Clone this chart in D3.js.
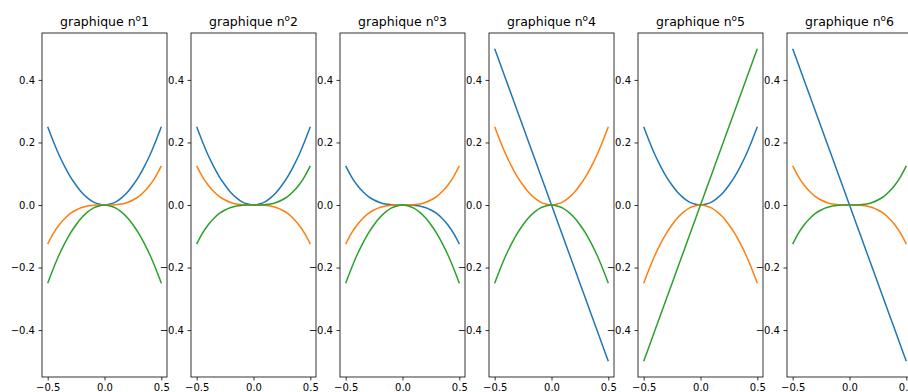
<!DOCTYPE html>
<html>
<head>
<meta charset="utf-8">
<script src="https://cdn.jsdelivr.net/npm/d3@7"></script>
<style>
body { margin: 0; background: #fff; }
text { font-family: "DejaVu Sans", sans-serif; }
</style>
</head>
<body>
<script>
let width = 908;
let height = 392;

// abscisses communes
let xs = [-0.5, -0.45, -0.4, -0.35, -0.3, -0.25, -0.2, -0.15, -0.1, -0.05, 0,
  0.05, 0.1, 0.15, 0.2, 0.25, 0.3, 0.35, 0.4, 0.45, 0.5];

// courbes
let carre = [0.25, 0.203, 0.16, 0.123, 0.09, 0.063, 0.04, 0.023, 0.01, 0.003, 0,
  0.003, 0.01, 0.023, 0.04, 0.063, 0.09, 0.123, 0.16, 0.203, 0.25];
let moinsCarre = [-0.25, -0.203, -0.16, -0.123, -0.09, -0.063, -0.04, -0.023, -0.01, -0.003, 0,
  -0.003, -0.01, -0.023, -0.04, -0.063, -0.09, -0.123, -0.16, -0.203, -0.25];
let cube = [-0.125, -0.091, -0.064, -0.043, -0.027, -0.016, -0.008, -0.003, -0.001, 0, 0,
  0, 0.001, 0.003, 0.008, 0.016, 0.027, 0.043, 0.064, 0.091, 0.125];
let moinsCube = [0.125, 0.091, 0.064, 0.043, 0.027, 0.016, 0.008, 0.003, 0.001, 0, 0,
  0, -0.001, -0.003, -0.008, -0.016, -0.027, -0.043, -0.064, -0.091, -0.125];
let droite = [-0.5, -0.45, -0.4, -0.35, -0.3, -0.25, -0.2, -0.15, -0.1, -0.05, 0,
  0.05, 0.1, 0.15, 0.2, 0.25, 0.3, 0.35, 0.4, 0.45, 0.5];
let moinsDroite = [0.5, 0.45, 0.4, 0.35, 0.3, 0.25, 0.2, 0.15, 0.1, 0.05, 0,
  -0.05, -0.1, -0.15, -0.2, -0.25, -0.3, -0.35, -0.4, -0.45, -0.5];

// bleu, orange, vert pour chaque graphique
let graphiques = [
  [carre, cube, moinsCarre],
  [carre, moinsCube, cube],
  [moinsCube, cube, moinsCarre],
  [moinsDroite, carre, moinsCarre],
  [carre, moinsCarre, droite],
  [moinsDroite, moinsCube, cube]
];
let titres = ["1", "2", "3", "4", "5", "6"];
let couleurs = ["#1f77b4", "#ff7f0e", "#2ca02c"];

let xTicks = [-0.5, 0, 0.5];
let yTicks = [-0.4, -0.2, 0, 0.2, 0.4];

let svg = d3.select("body").append("svg").attr("width", width).attr("height", height);

svg.append("rect").attr("width", width).attr("height", height).attr("fill", "#ffffff");

let left0 = 42;
let pas = 149;
let pw = 125;
let haut = 33;
let bas = 377;

let y = d3.scaleLinear().domain([-0.55, 0.55]).range([bas, haut]);

graphiques.forEach(function (series, i) {
  let left = left0 + pas * i;
  let x = d3.scaleLinear().domain([-0.55, 0.55]).range([left, left + pw]);

  let g = svg.append("g");

  g.append("rect")
  .attr("x", left)
  .attr("y", haut)
  .attr("width", pw)
  .attr("height", bas - haut)
  .attr("fill", "#ffffff");

  let line = d3.line()
  .x((d, k) => x(xs[k]))
  .y(d => y(d))
  .curve(d3.curveMonotoneX);

  series.forEach(function (s, j) {
    g.append("path")
    .attr("d", line(s))
    .attr("fill", "none")
    .attr("stroke", couleurs[j])
    .attr("stroke-width", 1.5);
  });

  g.append("rect")
  .attr("x", left)
  .attr("y", haut)
  .attr("width", pw)
  .attr("height", bas - haut)
  .attr("fill", "none")
  .attr("stroke", "#000000")
  .attr("stroke-width", 0.8);

  let ax = g.append("g")
  .attr("transform", "translate(0," + bas + ")")
  .call(d3.axisBottom(x).tickValues(xTicks).tickFormat(d3.format(".1f")).tickSize(3.5).tickPadding(3.5));

  let ay = g.append("g")
  .attr("transform", "translate(" + left + ",0)")
  .call(d3.axisLeft(y).tickValues(yTicks).tickFormat(d3.format(".1f")).tickSize(3.5).tickPadding(3.5));

  [ax, ay].forEach(function (a) {
    a.select(".domain").remove();
    a.selectAll("line").attr("stroke", "#000000").attr("stroke-width", 0.8);
    a.selectAll("text").attr("font-size", 10).attr("fill", "#000000")
    .attr("font-family", "DejaVu Sans, sans-serif");
  });

  let t = g.append("text")
  .attr("x", left + pw / 2)
  .attr("y", 25.5)
  .attr("text-anchor", "middle")
  .attr("font-size", 12.5)
  .attr("fill", "#000000");
  t.append("tspan").text("graphique n");
  t.append("tspan").attr("font-size", 8.8).attr("dy", -5).text("o");
  t.append("tspan").attr("dy", 5).text(titres[i]);
});
</script>
</body>
</html>
